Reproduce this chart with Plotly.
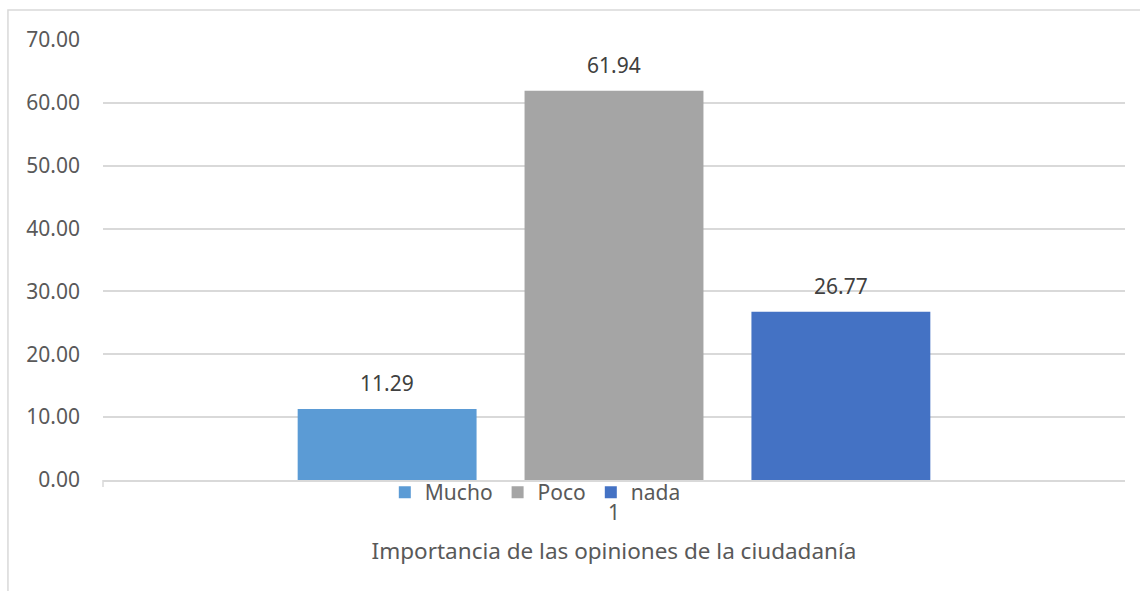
import plotly.graph_objects as go

categories = ["1"]
series_names = ["Mucho", "Poco", "nada"]
series_values = [11.29, 61.94, 26.77]
series_colors = ["#5B9BD5", "#A5A5A5", "#4472C4"]
y_ticks = [0, 10, 20, 30, 40, 50, 60, 70]

FONT = "Noto Sans"
TXT = "#595959"
BARGAP = 0.334
BARGROUPGAP = 0.2115

fig = go.Figure()
for name, val, col in zip(series_names, series_values, series_colors):
    fig.add_trace(go.Bar(
        x=categories, y=[val], name=name, marker_color=col,
        marker_line_width=0,
    ))

# data labels, positioned from the group layout (category index 0)
n = len(series_names)
slot = (1 - BARGAP) / n
annotations = []
for i, val in enumerate(series_values):
    xc = 0 - (1 - BARGAP) / 2 + slot * (i + 0.5)
    annotations.append(dict(x=xc, y=val, xref="x", yref="y", text=f"{val:.2f}",
                            showarrow=False, yanchor="bottom", yshift=10,
                            font=dict(family=FONT, size=21, color="#404040")))

fig.update_layout(
    width=1140, height=591,
    paper_bgcolor="white", plot_bgcolor="white",
    margin=dict(l=103, r=15, t=40, b=111),
    barmode="group", bargap=BARGAP, bargroupgap=BARGROUPGAP,
    font=dict(family=FONT, color=TXT, size=21),
    legend=dict(orientation="h", x=0.423, xanchor="center", y=0.018, yanchor="top",
                font=dict(family=FONT, size=21, color=TXT),
                itemwidth=30, bgcolor="rgba(0,0,0,0)"),
    showlegend=True,
    annotations=annotations,
    shapes=[
        dict(type="rect", xref="paper", yref="paper",
             x0=-0.093, x1=1.05, y0=-0.3, y1=1.068,
             line=dict(color="#D9D9D9", width=1.5), fillcolor="rgba(0,0,0,0)", layer="below"),
        dict(type="line", xref="paper", yref="paper", x0=0, x1=0, y0=0, y1=-0.016,
             line=dict(color="#D9D9D9", width=1.5)),
    ],
)
fig.update_yaxes(range=[0, 70], tickvals=y_ticks, tickformat=".2f",
                 showgrid=True, gridcolor="#D9D9D9", gridwidth=1.5,
                 zeroline=False, showline=False, ticks="",
                 tickfont=dict(family=FONT, size=21, color=TXT), ticklabelstandoff=22)
fig.update_xaxes(range=[-0.5, 0.5], showline=True, linecolor="#D9D9D9", linewidth=1.5, ticks="",
                 tickfont=dict(family=FONT, size=21, color=TXT), ticklabelstandoff=13,
                 title=dict(text="Importancia de las opiniones de la ciudadanía",
                            font=dict(family=FONT, size=22.5, color=TXT), standoff=18))

fig.write_html("out.html", config={"displayModeBar": False},
               post_script="document.body.style.margin='0';")
